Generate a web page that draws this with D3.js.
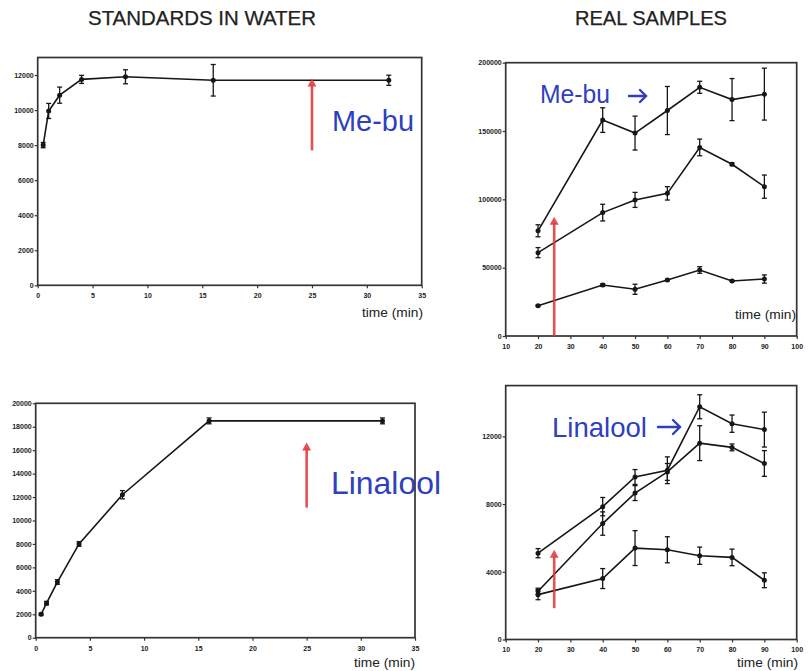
<!DOCTYPE html>
<html>
<head>
<meta charset="utf-8">
<script src="https://cdn.jsdelivr.net/npm/d3@7"></script>
<style>
  html, body { margin: 0; padding: 0; background: #fff; }
  svg { display: block; }
  text { font-family: "Liberation Sans", Arial, sans-serif; }
</style>
</head>
<body>
<svg id="chart" width="809" height="671"></svg>
<script>
// ---- Standards in water (time in minutes) ----
const stdTimes = [0.5, 1, 2, 4, 8, 16, 32];
const stdMeBu = [8000, 9950, 10850, 11750, 11900, 11700, 11700];
const stdMeBuErr = [150, 430, 460, 230, 400, 900, 290];
const stdLinalool = [2000, 2950, 4750, 8000, 12200, 18500, 18500];
const stdLinaloolErr = [100, 150, 200, 200, 350, 250, 250];

// ---- Real samples (time in minutes) ----
const sampleTimes = [20, 40, 50, 60, 70, 80, 90];
const meBuSample1 = [77000, 158000, 148500, 165000, 182000, 173000, 177000];
const meBuSample1Err = [4400, 9000, 12400, 17600, 4400, 15400, 19000];
const meBuSample2 = [61000, 90300, 99600, 104400, 138000, 125700, 109300];
const meBuSample2Err = [3700, 6100, 5500, 4900, 6100, 1000, 8500];
const meBuSample3 = [22200, 37300, 34200, 41000, 48300, 40300, 41700];
const meBuSample3Err = [500, 1000, 3700, 500, 2400, 500, 3000];

const linaloolSample1 = [5100, 7850, 9600, 10000, 13750, 12750, 12400];
const linaloolSample1Err = [270, 540, 440, 790, 710, 510, 1030];
const linaloolSample2 = [2850, 6850, 8650, 9900, 11600, 11350, 10400];
const linaloolSample2Err = [180, 690, 440, 500, 1030, 200, 760];
const linaloolSample3 = [2650, 3600, 5400, 5300, 4950, 4850, 3500];
const linaloolSample3Err = [300, 590, 1030, 770, 510, 490, 440];

// ---- Tick values ----
const stdXTicks = [0, 5, 10, 15, 20, 25, 30, 35];
const sampleXTicks = [10, 20, 30, 40, 50, 60, 70, 80, 90, 100];
const stdMeBuYTicks = [0, 2000, 4000, 6000, 8000, 10000, 12000];
const stdLinaloolYTicks = [0, 2000, 4000, 6000, 8000, 10000, 12000, 14000, 16000, 18000, 20000];
const meBuSampleYTicks = [0, 50000, 100000, 150000, 200000];
const linaloolSampleYTicks = [0, 4000, 8000, 12000];

// ---- Headings and labels ----
const headings = ["STANDARDS IN WATER", "REAL SAMPLES"];
const axisTitle = "time (min)";

const svg = d3.select("#chart");
const INK = "#161616";
const BLUE = "#2f3fbf";
const RED = "#e2383c";

svg.append("text").attr("x", 88).attr("y", 25)
  .attr("font-size", 20).attr("fill", "#222").attr("stroke", "#222").attr("stroke-width", 0.25)
  .attr("textLength", 228).attr("lengthAdjust", "spacingAndGlyphs")
  .text(headings[0]);
svg.append("text").attr("x", 575).attr("y", 25)
  .attr("font-size", 20).attr("fill", "#222").attr("stroke", "#222").attr("stroke-width", 0.25)
  .attr("textLength", 152).attr("lengthAdjust", "spacingAndGlyphs")
  .text(headings[1]);

function panel(cfg) {
  const g = svg.append("g");
  const x = d3.scaleLinear().domain(cfg.xDomain).range([cfg.left, cfg.right]);
  const y = d3.scaleLinear().domain(cfg.yDomain).range([cfg.bottom, cfg.top]);

  // box
  g.append("rect")
    .attr("x", cfg.left).attr("y", cfg.top)
    .attr("width", cfg.right - cfg.left).attr("height", cfg.bottom - cfg.top)
    .attr("fill", "none").attr("stroke", "#333").attr("stroke-width", 1.7);

  const yAxis = g.append("g").attr("transform", `translate(${cfg.left},0)`)
    .call(d3.axisLeft(y).tickValues(cfg.yTicks).tickSize(3).tickPadding(1).tickFormat(d3.format("d")));
  const xAxis = g.append("g").attr("transform", `translate(0,${cfg.bottom})`)
    .call(d3.axisBottom(x).tickValues(cfg.xTicks).tickSize(3).tickPadding(5).tickFormat(d3.format("d")));
  [yAxis, xAxis].forEach(a => {
    a.select(".domain").remove();
    a.selectAll(".tick line").attr("stroke", "#333").attr("stroke-width", 1.2);
    a.selectAll(".tick text").attr("font-size", 7).attr("font-weight", "bold")
      .attr("fill", "#222").attr("font-family", "'Liberation Sans', Arial, sans-serif");
  });

  // series with error bars
  cfg.series.forEach(s => {
    const pts = cfg.xs.map((t, i) => ({ t, v: s.values[i], e: s.err[i] }));
    g.append("path").datum(pts)
      .attr("fill", "none").attr("stroke", INK).attr("stroke-width", 1.6)
      .attr("d", d3.line().x(d => x(d.t)).y(d => y(d.v)));
    const eb = g.append("g").selectAll("g").data(pts).join("g");
    eb.append("line")
      .attr("x1", d => x(d.t)).attr("x2", d => x(d.t))
      .attr("y1", d => y(d.v - d.e)).attr("y2", d => y(d.v + d.e))
      .attr("stroke", INK).attr("stroke-width", 1.3);
    [-1, 1].forEach(sgn => {
      eb.append("line")
        .attr("x1", d => x(d.t) - 2.5).attr("x2", d => x(d.t) + 2.5)
        .attr("y1", d => y(d.v + sgn * d.e)).attr("y2", d => y(d.v + sgn * d.e))
        .attr("stroke", INK).attr("stroke-width", 1.3);
    });
    eb.append("circle")
      .attr("cx", d => x(d.t)).attr("cy", d => y(d.v)).attr("r", 2.5)
      .attr("fill", INK);
  });

  // red arrow marker
  const ax = x(cfg.arrow.t), y0 = y(cfg.arrow.from), y1 = y(cfg.arrow.to);
  g.append("line").attr("x1", ax).attr("x2", ax).attr("y1", y0).attr("y2", y1 + 6)
    .attr("stroke", RED).attr("stroke-width", 2.6).attr("opacity", 0.88);
  g.append("path")
    .attr("d", `M${ax - 4.5},${y1 + 8}L${ax},${y1}L${ax + 4.5},${y1 + 8}Z`)
    .attr("fill", RED).attr("opacity", 0.88);

  // axis title
  g.append("text").attr("x", cfg.timeLabel[0]).attr("y", cfg.timeLabel[1])
    .attr("font-size", 12.5).attr("fill", "#222")
    .attr("textLength", 61).attr("lengthAdjust", "spacingAndGlyphs")
    .text(axisTitle);

  // compound name
  const n = cfg.name;
  g.append("text").attr("x", n.x).attr("y", n.y)
    .attr("font-size", n.size).attr("fill", BLUE)
    .attr("textLength", n.w).attr("lengthAdjust", "spacingAndGlyphs")
    .text(n.text);
  // blue pointer arrow after the name
  if (n.pointer) {
    const [px0, px1, py, hh] = n.pointer;
    g.append("path")
      .attr("d", `M${px0},${py}H${px1 - 1}M${px1 - hh},${py - hh}L${px1},${py}L${px1 - hh},${py + hh}`)
      .attr("fill", "none").attr("stroke", BLUE).attr("stroke-width", 2.4)
      .attr("stroke-linecap", "round").attr("stroke-linejoin", "miter");
  }
}

panel({
  left: 37.7, right: 421.7, top: 57.5, bottom: 285.3,
  xDomain: [0, 35], yDomain: [0, 13000],
  xTicks: stdXTicks, yTicks: stdMeBuYTicks, xs: stdTimes,
  series: [{ values: stdMeBu, err: stdMeBuErr }],
  arrow: { t: 25, from: 7700, to: 11800 },
  timeLabel: [362, 317],
  name: { text: "Me-bu", x: 332, y: 131, size: 29, w: 82 }
});

panel({
  left: 505.7, right: 796.7, top: 62.7, bottom: 336,
  xDomain: [10, 100], yDomain: [0, 200000],
  xTicks: sampleXTicks, yTicks: meBuSampleYTicks, xs: sampleTimes,
  series: [
    { values: meBuSample1, err: meBuSample1Err },
    { values: meBuSample2, err: meBuSample2Err },
    { values: meBuSample3, err: meBuSample3Err }
  ],
  arrow: { t: 25, from: 0, to: 87300 },
  timeLabel: [735, 319],
  name: { text: "Me-bu", x: 540, y: 103, size: 25, w: 70, pointer: [629, 646, 96, 6] }
});

panel({
  left: 35.7, right: 415, top: 403.3, bottom: 637.7,
  xDomain: [0, 35], yDomain: [0, 20000],
  xTicks: stdXTicks, yTicks: stdLinaloolYTicks, xs: stdTimes,
  series: [{ values: stdLinalool, err: stdLinaloolErr }],
  arrow: { t: 25, from: 11100, to: 16650 },
  timeLabel: [354, 667],
  name: { text: "Linalool", x: 331, y: 494, size: 32, w: 110 }
});

panel({
  left: 505.7, right: 796.7, top: 385.6, bottom: 639.5,
  xDomain: [10, 100], yDomain: [0, 15000],
  xTicks: sampleXTicks, yTicks: linaloolSampleYTicks, xs: sampleTimes,
  series: [
    { values: linaloolSample1, err: linaloolSample1Err },
    { values: linaloolSample2, err: linaloolSample2Err },
    { values: linaloolSample3, err: linaloolSample3Err }
  ],
  arrow: { t: 25, from: 1850, to: 5300 },
  timeLabel: [737, 667],
  name: { text: "Linalool", x: 552, y: 437, size: 27.5, w: 95, pointer: [658, 680, 427, 7] }
});
</script>
</body>
</html>
